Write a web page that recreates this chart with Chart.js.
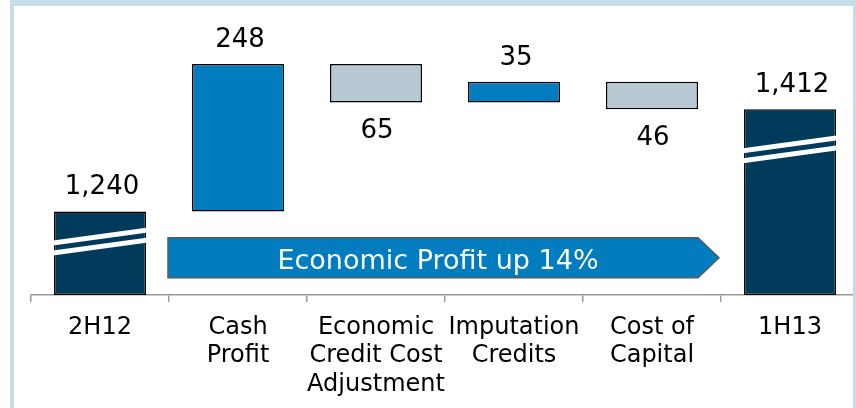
<!DOCTYPE html>
<html>
<head>
<meta charset="utf-8">
<script src="https://cdn.jsdelivr.net/npm/chart.js@4.4.1/dist/chart.umd.min.js"></script>
<style>
  html, body { margin: 0; padding: 0; background: #fff; overflow: hidden; }
  #wrap { position: relative; width: 856px; height: 408px; overflow: hidden; }
  #c { position: absolute; left: 0; top: 0; }
  .fr { position: absolute; background: #c6dde9; }
</style>
</head>
<body>
<div id="wrap">
  <canvas id="c" width="880" height="408" style="width:880px;height:408px"></canvas>
  <div class="fr" style="left:10px;top:0;width:846px;height:6px"></div>
  <div class="fr" style="left:10px;top:0;width:4px;height:408px"></div>
  <div class="fr" style="left:853px;top:0;width:3px;height:408px"></div>
</div>
<script>
// ---- data ----
const categories = [["2H12"], ["Cash", "Profit"], ["Economic", "Credit Cost", "Adjustment"], ["Imputation", "Credits"], ["Cost of", "Capital"], ["1H13"]];
const changes = [1240, 248, -65, 35, -46, 1412];
const kinds = ["total", "up", "down", "up", "down", "total"];
const valueLabels = ["1,240", "248", "65", "35", "46", "1,412"];
const axisMin = 1100;
const axisMax = 1560;
const arrowText = "Economic Profit up 14%";
const arrowRange = [1129, 1196];

// build floating ranges
const ranges = [];
let running = 0;
changes.forEach((v, i) => {
  if (kinds[i] === "total") { ranges.push([axisMin, v]); running = v; }
  else { const s = running; running = s + v; ranges.push([Math.min(s, running), Math.max(s, running)]); }
});

const colors = { total: "#003b5c", up: "#007cbf", down: "#b7c9d3" };
const FONT = "'DejaVu Sans', Verdana, sans-serif";

const overlay = {
  id: "overlay",
  afterDatasetsDraw(chart) {
    const ctx = chart.ctx;
    const meta = chart.getDatasetMeta(0);
    const x = chart.scales.x, y = chart.scales.y;
    ctx.save();
    // break stripes on total bars
    const breaks = { 0: [29, 16], 5: [39, 26] };
    Object.keys(breaks).forEach(k => {
      const el = meta.data[k];
      const l = el.x - el.width / 2 - 1, r = el.x + el.width / 2 + 2;
      const top = Math.min(el.y, el.base);
      const [ol, or] = breaks[k];
      ctx.fillStyle = "#ffffff";
      [0, 10].forEach(d => {
        ctx.beginPath();
        ctx.moveTo(l, top + ol + d);
        ctx.lineTo(r, top + or + d);
        ctx.lineTo(r, top + or + d + 5);
        ctx.lineTo(l, top + ol + d + 5);
        ctx.closePath();
        ctx.fill();
      });
    });
    // value labels
    ctx.fillStyle = "#000";
    ctx.font = "26px " + FONT;
    ctx.textAlign = "center";
    ctx.textBaseline = "middle";
    meta.data.forEach((el, i) => {
      const top = Math.min(el.y, el.base), bot = Math.max(el.y, el.base);
      if (kinds[i] === "down") ctx.fillText(valueLabels[i], el.x + 1, bot + 29);
      else ctx.fillText(valueLabels[i], el.x + 2, top - 24);
    });
    // arrow
    const xl = (x.getPixelForTick(0) + x.getPixelForTick(1)) / 2 - 1;
    const xr = (x.getPixelForTick(4) + x.getPixelForTick(5)) / 2 - 2;
    const yt = y.getPixelForValue(arrowRange[1]);
    const yb = y.getPixelForValue(arrowRange[0]);
    const h = yb - yt;
    ctx.beginPath();
    ctx.moveTo(xl, yt);
    ctx.lineTo(xr - 21, yt);
    ctx.lineTo(xr, yt + h / 2);
    ctx.lineTo(xr - 21, yb);
    ctx.lineTo(xl, yb);
    ctx.closePath();
    ctx.fillStyle = "#007cbf";
    ctx.fill();
    ctx.lineWidth = 1.5;
    ctx.strokeStyle = "#5a5a5a";
    ctx.stroke();
    ctx.fillStyle = "#ffffff";
    ctx.font = "27px " + FONT;
    ctx.fillText(arrowText, (xl + xr - 21) / 2 + 5, yt + h / 2 + 4);
    ctx.restore();
  }
};

new Chart(document.getElementById("c"), {
  type: "bar",
  data: {
    labels: categories,
    datasets: [{
      data: ranges,
      backgroundColor: kinds.map(k => colors[k]),
      borderColor: "#000000",
      borderWidth: 1.5,
      borderSkipped: false,
      categoryPercentage: 1,
      barPercentage: 0.667
    }]
  },
  options: {
    responsive: false,
    animation: false,
    devicePixelRatio: 1,
    layout: { padding: { left: 31, right: 21, top: 21, bottom: 0 } },
    plugins: { legend: { display: false }, tooltip: { enabled: false } },
    scales: {
      x: {
        offset: true,
        grid: { offset: true, drawOnChartArea: false, tickLength: 7, color: "#999999", lineWidth: 1.5 },
        border: { color: "#999999", width: 1.5 },
        ticks: { color: "#000", font: { family: FONT, size: 24, lineHeight: 1.19 }, padding: 11, maxRotation: 0, autoSkip: false },
        afterFit(s) { s.height = 113; }
      },
      y: { display: false, min: axisMin, max: axisMax }
    }
  },
  plugins: [overlay]
});
</script>
</body>
</html>
